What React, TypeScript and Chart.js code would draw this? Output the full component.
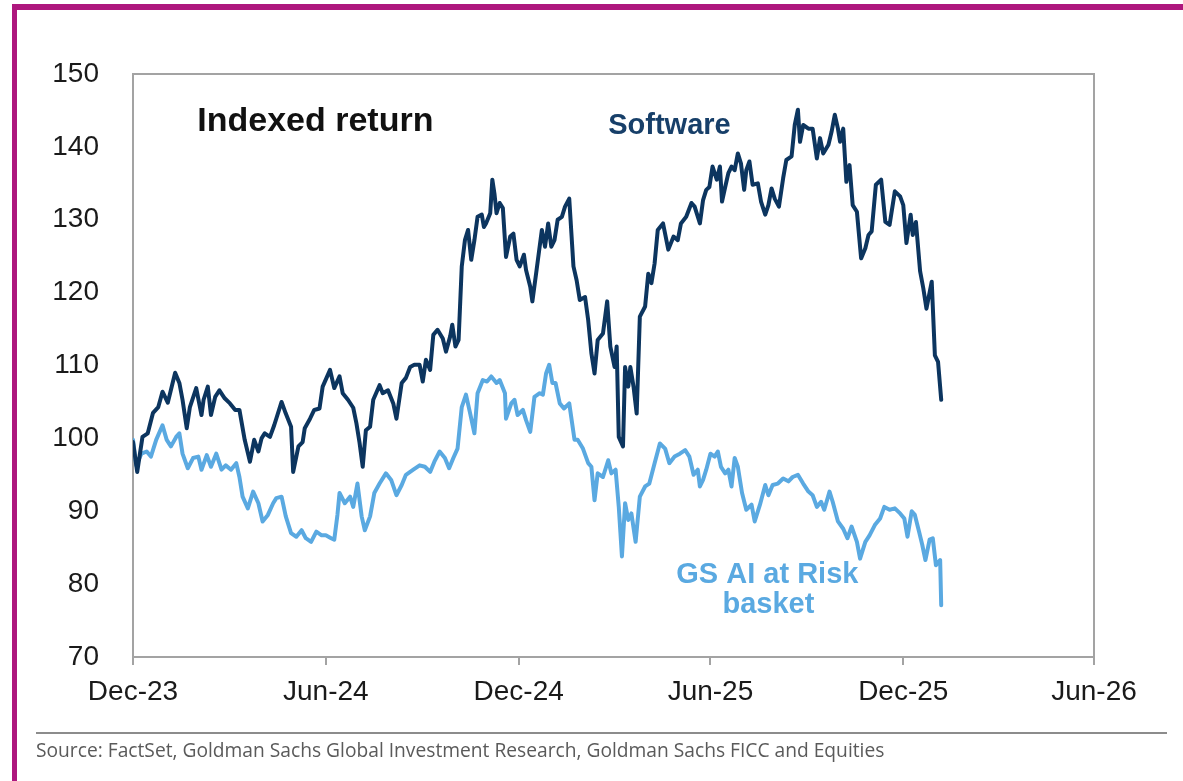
import { useEffect, useRef } from "react";
import { Chart, registerables } from "chart.js";

Chart.register(...registerables);

// x axis: days since 1 Dec 2023
const tickDays = [0, 183, 366, 548, 731, 912];
const tickLabels = ["Dec-23", "Jun-24", "Dec-24", "Jun-25", "Dec-25", "Jun-26"];
const yMin = 70;
const yMax = 150;
const yStep = 10;

const softwareDays = [
  0, 4, 9, 14, 19, 24, 28, 33, 40, 44, 47, 51, 54, 60, 65, 67, 71, 74, 78, 82, 87, 92, 97, 101, 106, 111, 115, 119, 122, 125,
  130, 134, 141, 145, 150, 152, 157, 161, 163, 168, 172, 177, 180, 187, 191, 196, 199, 204, 209, 212, 215, 218, 221, 225, 228,
  234, 237, 242, 247, 250, 255, 259, 263, 267, 272, 275, 278, 282, 285, 289, 294, 297, 301, 303, 306, 309, 312, 315, 318, 321,
  324, 327, 331, 333, 335, 339, 341, 343, 345, 348, 351, 354, 358, 361, 364, 367, 371, 373, 377, 379, 383, 388, 391, 394, 397,
  400, 403, 407, 410, 414, 418, 421, 424, 429, 432, 435, 438, 441, 446, 450, 453, 457, 459, 461, 465, 467, 470, 472, 475, 478,
  481, 486, 489, 492, 495, 498, 503, 508, 513, 517, 520, 525, 530, 533, 538, 541, 544, 547, 550, 554, 557, 559, 562, 565, 568,
  571, 574, 577, 580, 582, 585, 588, 593, 596, 600, 603, 606, 609, 613, 617, 620, 625, 628, 631, 633, 636, 641, 645, 649, 652,
  655, 660, 663, 666, 669, 671, 674, 677, 680, 683, 687, 691, 695, 698, 701, 705, 710, 714, 718, 723, 728, 731, 734, 738, 740,
  743, 747, 750, 753, 758, 761, 764, 767,
];
const softwareValues = [
  99.5, 95.4, 100.2, 100.7, 103.5, 104.3, 106.4, 104.9, 109.0, 107.6, 105.3, 101.4, 104.3, 106.9, 103.2, 105.3, 107.1, 103.2,
  105.7, 106.6, 105.5, 104.8, 103.9, 103.9, 99.8, 96.8, 99.8, 98.2, 100.0, 100.7,
  100.2, 101.8, 105.0, 103.4, 101.6, 95.4, 98.9, 99.5, 101.4, 102.7, 103.9, 104.1, 107.1, 109.4, 106.9, 108.5, 106.2, 105.3,
  104.2, 102.1, 99.4, 96.1, 101.1, 101.6, 105.3,
  107.3, 106.2, 106.6, 104.8, 102.7, 107.6, 108.3, 109.8, 110.1, 110.1, 107.8, 110.8, 109.4, 114.2, 114.9, 113.7, 111.9, 114.0,
  115.6, 112.6, 113.5, 123.6, 127.2, 128.6, 124.5,
  127.2, 130.4, 130.7, 129.0, 129.5, 130.9, 135.5, 133.6, 130.9, 132.3, 131.6, 124.9, 127.7, 128.1, 124.5, 123.6, 125.2, 123.1,
  120.8, 118.8, 123.1, 128.6, 126.3, 129.5, 126.3,
  127.2, 130.0, 130.4, 131.8, 132.9, 123.6, 121.7, 119.0, 119.4, 116.2, 111.7, 108.9, 113.5, 114.4, 118.8, 112.6, 109.8, 112.6,
  100.2, 98.9, 109.8, 107.1, 109.8, 107.1, 103.4,
  116.7, 118.1, 122.6, 121.3, 124.0, 128.6, 129.5, 125.9, 127.7, 127.2, 129.5, 130.4, 132.3, 131.8, 129.5, 132.7, 134.1, 134.5,
  137.3, 135.5, 137.3, 132.5, 134.5, 136.4, 137.3,
  136.8, 139.1, 137.7, 134.1, 136.8, 138.0, 134.8, 135.0, 132.5, 130.7, 132.0, 134.3, 132.9, 131.8, 135.7, 138.2, 138.7, 143.0,
  145.1, 140.7, 143.0, 142.5, 142.5, 138.4, 141.2,
  139.1, 140.3, 142.1, 144.4, 142.5, 140.7, 142.5, 135.2, 137.5, 132.0, 131.1, 124.7, 126.1, 127.9, 128.4, 134.8, 135.5, 129.7,
  129.3, 133.9, 133.2, 132.0, 126.8, 130.7, 127.9,
  129.7, 122.9, 120.6, 117.8, 121.5, 111.4, 110.5, 105.3,
];

const basketDays = [
  0, 3, 8, 13, 17, 22, 28, 32, 36, 41, 44, 47, 52, 57, 62, 65, 70, 74, 79, 84, 88, 93, 98, 101, 104, 109, 114, 119, 123, 128,
  133, 136, 141, 145, 150, 155, 160, 164, 169, 174, 179, 183, 188, 191, 194, 196, 201, 206, 209, 213, 217, 220, 225, 229, 234,
  240, 245, 250, 255, 259, 266, 272, 277, 282, 286, 291, 296, 300, 304, 308, 312, 316, 320, 324, 327, 332, 336, 340, 345, 348,
  353, 354, 359, 362, 365, 370, 373, 377, 381, 386, 389, 392, 395, 398, 401, 405, 409, 414, 419, 422, 427, 432, 435, 438, 441,
  446, 451, 454, 458, 461, 464, 467, 470, 473, 477, 481, 486, 490, 495, 500, 505, 509, 514, 519, 524, 528, 532, 536, 538, 541,
  544, 548, 552, 555, 558, 562, 565, 568, 571, 574, 578, 582, 587, 590, 595, 600, 603, 607, 612, 617, 622, 626, 631, 636, 641,
  645, 649, 653, 656, 661, 664, 669, 674, 678, 682, 687, 690, 695, 699, 704, 709, 713, 718, 723, 728, 732, 735, 739, 742, 746,
  749, 752, 756, 759, 762, 766, 767,
];
const basketValues = [
  99.8, 96.3, 97.9, 98.2, 97.5, 99.8, 101.8, 99.8, 98.9, 100.2, 100.7, 97.9, 95.9, 97.3, 97.5, 95.7, 97.7, 96.1, 97.9, 95.7,
  96.3, 95.7, 96.6, 94.7, 92.0, 90.4, 92.7, 91.1, 88.6, 89.5,
  91.1, 91.8, 92.0, 89.3, 87.0, 86.5, 87.4, 86.3, 85.8, 87.2, 86.7, 86.7, 86.3, 86.1, 89.5, 92.5, 91.1, 92.0, 90.6, 93.8, 89.3,
  87.4, 89.3, 92.5, 93.8,
  95.2, 94.3, 92.2, 93.6, 95.0, 95.7, 96.3, 96.1, 95.4, 96.8, 98.2, 97.3, 95.9, 97.3, 98.6, 104.3, 106.0, 103.4, 100.7, 106.2,
  108.0, 107.8, 108.5, 107.6, 108.0,
  106.2, 102.7, 104.8, 105.3, 103.2, 103.9, 102.5, 100.9, 105.7, 106.2, 106.0, 108.9, 110.1, 107.6, 107.6, 104.8, 104.1, 104.8,
  99.8, 99.8, 98.6, 96.6, 96.1, 91.5, 95.2,
  94.7, 97.0, 95.2, 95.7, 90.6, 83.8, 91.1, 88.8, 89.7, 85.8, 92.0, 93.4, 93.8, 96.6, 99.3, 98.6, 96.6, 97.5, 97.9, 98.4, 97.5,
  95.0, 95.7, 93.4, 94.3,
  95.7, 97.9, 97.5, 98.2, 96.1, 95.2, 95.7, 93.4, 97.3, 96.1, 92.5, 90.2, 90.9, 88.6, 90.9, 93.6, 92.2, 93.6, 93.8, 94.5, 94.1,
  94.7, 95.0, 93.8, 92.7,
  92.2, 90.6, 91.3, 90.2, 92.7, 91.3, 88.6, 87.6, 86.3, 87.9, 85.8, 83.5, 85.8, 86.7, 88.1, 89.0, 90.6, 90.2, 90.4, 89.7, 89.0,
  86.5, 90.0, 89.5, 87.2,
  85.4, 83.3, 86.1, 86.3, 82.6, 83.3, 77.1,
];

const softwareLabel = "Software";
const basketLabel = "GS AI at Risk basket";
const titleText = "Indexed return";
const sourceText =
  "Source: FactSet, Goldman Sachs Global Investment Research, Goldman Sachs FICC and Equities";

const NAVY = "#0c355f";
const LIGHT = "#5aa9e1";
const AXIS_GREY = "#a3a3a3";
const FONT = "Arial, 'Liberation Sans', sans-serif";

const overlayPlugin = {
  id: "overlay",
  beforeDatasetsDraw(chart: any) {
    const { ctx, chartArea: a } = chart;
    ctx.save();
    ctx.strokeStyle = AXIS_GREY;
    ctx.lineWidth = 2;
    ctx.strokeRect(a.left, a.top, a.right - a.left, a.bottom - a.top);
    ctx.restore();
  },
  afterDatasetsDraw(chart: any) {
    const { ctx } = chart;
    const xs = chart.scales.x;
    const ys = chart.scales.y;
    ctx.save();
    ctx.textBaseline = "alphabetic";

    ctx.fillStyle = "#111111";
    ctx.font = `bold 34px ${FONT}`;
    ctx.textAlign = "left";
    ctx.fillText(titleText, xs.getPixelForValue(61), ys.getPixelForValue(142.2));

    ctx.fillStyle = "#173f69";
    ctx.font = `bold 29px ${FONT}`;
    ctx.fillText(softwareLabel, xs.getPixelForValue(451), ys.getPixelForValue(141.7));

    ctx.fillStyle = LIGHT;
    ctx.textAlign = "center";
    ctx.fillText("GS AI at Risk", xs.getPixelForValue(602), ys.getPixelForValue(80.2));
    ctx.fillText("basket", xs.getPixelForValue(603), ys.getPixelForValue(76.0));

    // footer rule and source
    ctx.strokeStyle = "#8c8c8c";
    ctx.lineWidth = 2;
    ctx.beginPath();
    ctx.moveTo(36, 733);
    ctx.lineTo(1167, 733);
    ctx.stroke();

    ctx.fillStyle = "#5a5a5a";
    ctx.textAlign = "left";
    let size = 16;
    ctx.font = `${size}px 'Open Sans', sans-serif`;
    const w = ctx.measureText(sourceText).width;
    size = (size * 849) / w;
    ctx.font = `${size.toFixed(2)}px 'Open Sans', sans-serif`;
    ctx.fillText(sourceText, 36, 757);
    ctx.restore();
  },
};

export default function App() {
  const canvasRef = useRef<HTMLCanvasElement | null>(null);

  useEffect(() => {
    document.body.style.margin = "0";
    const canvas = canvasRef.current;
    if (!canvas) return;
    const chart = new Chart(canvas, {
      type: "line",
      data: {
        datasets: [
          {
            label: softwareLabel,
            data: softwareDays.map((d, i) => ({ x: d, y: softwareValues[i] })),
            borderColor: NAVY,
            borderWidth: 4,
            pointRadius: 0,
            tension: 0,
            borderJoinStyle: "round",
            borderCapStyle: "round",
            fill: false,
          },
          {
            label: basketLabel,
            data: basketDays.map((d, i) => ({ x: d, y: basketValues[i] })),
            borderColor: LIGHT,
            borderWidth: 4,
            pointRadius: 0,
            tension: 0,
            borderJoinStyle: "round",
            borderCapStyle: "round",
            fill: false,
          },
        ],
      },
      options: {
        responsive: false,
        animation: false,
        events: [],
        layout: { padding: { left: 33, top: 74, right: 89, bottom: 64 } },
        plugins: {
          legend: { display: false },
          tooltip: { enabled: false },
          title: { display: false },
        },
        scales: {
          x: {
            type: "linear",
            min: tickDays[0],
            max: tickDays[tickDays.length - 1],
            afterBuildTicks: (scale: any) => {
              scale.ticks = tickDays.map((v) => ({ value: v }));
            },
            afterFit: (scale: any) => {
              scale.height = 60;
            },
            grid: {
              display: true,
              drawOnChartArea: false,
              drawTicks: true,
              tickLength: 8,
              color: AXIS_GREY,
              lineWidth: 2,
            },
            border: { display: false },
            ticks: {
              autoSkip: false,
              maxRotation: 0,
              minRotation: 0,
              padding: 10,
              color: "#1a1a1a",
              font: { family: FONT, size: 28 },
              callback: (v: any) => {
                const i = tickDays.indexOf(Number(v));
                return i >= 0 ? tickLabels[i] : "";
              },
            },
          },
          y: {
            type: "linear",
            min: yMin,
            max: yMax,
            afterFit: (scale: any) => {
              scale.width = 100;
            },
            grid: { display: false },
            border: { display: false },
            ticks: {
              stepSize: yStep,
              padding: 26,
              color: "#1a1a1a",
              font: { family: FONT, size: 28 },
            },
          },
        },
      },
      plugins: [overlayPlugin],
    });
    return () => chart.destroy();
  }, []);

  return (
    <div
      style={{
        position: "absolute",
        left: 0,
        top: 0,
        width: 1183,
        height: 781,
        background: "#ffffff",
        overflow: "hidden",
      }}
    >
      <div style={{ position: "absolute", left: 12, top: 4, width: 1171, height: 6, background: "#ae177e" }} />
      <div style={{ position: "absolute", left: 12, top: 4, width: 5, height: 777, background: "#ae177e" }} />
      <canvas ref={canvasRef} width={1183} height={781} style={{ position: "absolute", left: 0, top: 0 }} />
    </div>
  );
}
